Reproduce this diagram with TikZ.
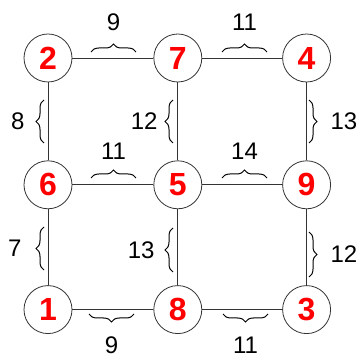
\documentclass[tikz,border=0pt]{standalone}
\usepackage{fontspec}
\setmainfont{Liberation Sans}
\usetikzlibrary{positioning, decorations.pathreplacing}

\begin{document}
\begin{tikzpicture}[
    x=1pt, y=1pt,
    node_num/.style={circle, draw=black!80, line width=0.8pt, minimum size=48pt, inner sep=0pt, text=red, font=\fontsize{32}{32}\selectfont\bfseries},
    edge_line/.style={draw=black!80, line width=0.8pt},
    brace_deco/.style={decorate, decoration={brace, amplitude=8pt}, draw=black, line width=1pt},
    weight/.style={font=\fontsize{24}{24}\selectfont, inner sep=2pt, text=black},
    node distance=77pt and 81pt
  ]
    \useasboundingbox (0,0) rectangle (358,358);

    \node[node_num] (N2) at (48,300) {2};
    \node[node_num, right=81pt of N2] (N7) {7};
    \node[node_num, right=80pt of N7] (N4) {4};

    \node[node_num, below=78pt of N2] (N6) {6};
    \node[node_num, right=81pt of N6] (N5) {5};
    \node[node_num, right=80pt of N5] (N9) {9};

    \node[node_num, below=76pt of N6] (N1) {1};
    \node[node_num, right=81pt of N1] (N8) {8};
    \node[node_num, right=80pt of N8] (N3) {3};

    \draw[edge_line] (N2) -- (N7);
    \draw[edge_line] (N7) -- (N4);
    \draw[edge_line] (N6) -- (N5);
    \draw[edge_line] (N5) -- (N9);
    \draw[edge_line] (N1) -- (N8);
    \draw[edge_line] (N8) -- (N3);

    \draw[edge_line] (N2) -- (N6);
    \draw[edge_line] (N6) -- (N1);
    \draw[edge_line] (N7) -- (N5);
    \draw[edge_line] (N5) -- (N8);
    \draw[edge_line] (N4) -- (N9);
    \draw[edge_line] (N9) -- (N3);

    % weights on the rows
    \draw[brace_deco] (91,306) -- (136,306) node[weight, midway, above=19pt] {9};
    \draw[brace_deco] (222,306) -- (267,306) node[weight, midway, above=19pt] {11};
    \draw[brace_deco] (91,180) -- (136,180) node[weight, midway, above=16pt] {11};
    \draw[brace_deco] (222,180) -- (267,180) node[weight, midway, above=16pt] {14};
    \draw[brace_deco] (134,44) -- (89,44) node[weight, midway, below=20pt] {9};
    \draw[brace_deco] (268,44) -- (223,44) node[weight, midway, below=20pt] {11};

    % weights on the columns
    \draw[brace_deco] (44,215) -- (44,258) node[weight, midway, left=17pt] {8};
    \draw[brace_deco] (173,215) -- (173,258) node[weight, midway, left=13pt] {12};
    \draw[brace_deco] (309,258) -- (309,215) node[weight, midway, right=19pt] {13};
    \draw[brace_deco] (44,88) -- (44,131) node[weight, midway, left=20pt] {7};
    \draw[brace_deco] (173,86) -- (173,130) node[weight, midway, left=16pt] {13};
    \draw[brace_deco] (309,126) -- (309,81) node[weight, midway, right=19pt] {12};
  \end{tikzpicture}
\end{document}
